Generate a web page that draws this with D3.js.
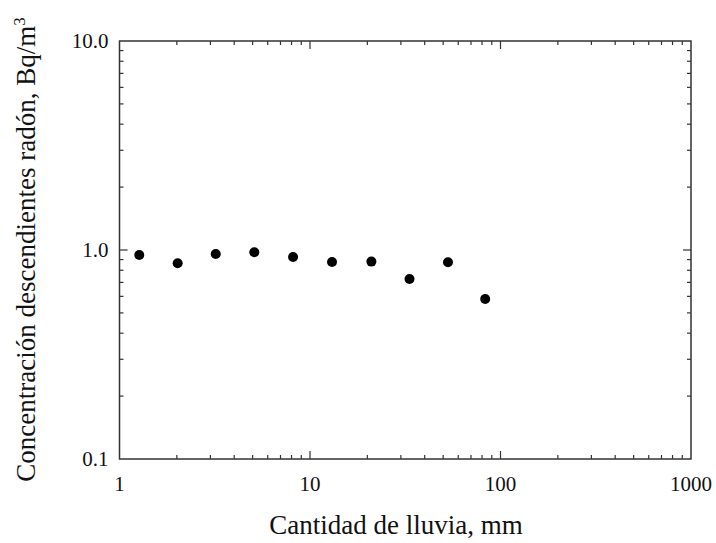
<!DOCTYPE html>
<html><head><meta charset="utf-8">
<script src="https://cdn.jsdelivr.net/npm/d3@7"></script>
<style>body{margin:0;background:#fff}svg{display:block}</style>
</head><body>
<svg id="c" width="716" height="543"></svg>
<script>
const rainfall = [1.27, 2.02, 3.2, 5.1, 8.15, 13.05, 21.0, 33.3, 53.0, 83.1];
const radonConc = [0.946, 0.864, 0.957, 0.975, 0.926, 0.876, 0.88, 0.726, 0.873, 0.583];
const xTickLabels = ["1", "10", "100", "1000"];
const yTickLabels = ["0.1", "1.0", "10.0"];
const xTickValues = [1, 10, 100, 1000];
const yTickValues = [0.1, 1, 10];

const svg = d3.select("#c");
const L = 119.5, R = 691, T = 41, B = 459;
const x = d3.scaleLog().domain([1, 1000]).range([L, R]);
const y = d3.scaleLog().domain([0.1, 10]).range([B, T]);
const font = "'Liberation Serif', 'Times New Roman', serif";
const axisColor = "#333";

const xMinor = [], yMinor = [];
[1, 10, 100].forEach(d => { for (let k = 2; k <= 9; k++) xMinor.push(d * k); });
[0.1, 1].forEach(d => { for (let k = 2; k <= 9; k++) yMinor.push(d * k); });

const g = svg.append("g");
function ticks(vals, len, isX) {
  vals.forEach(v => {
    if (isX) {
      const px = x(v);
      g.append("line").attr("x1", px).attr("x2", px).attr("y1", B).attr("y2", B - len).attr("stroke", axisColor).attr("stroke-width", 1.2);
      g.append("line").attr("x1", px).attr("x2", px).attr("y1", T).attr("y2", T + len).attr("stroke", axisColor).attr("stroke-width", 1.2);
    } else {
      const py = y(v);
      g.append("line").attr("y1", py).attr("y2", py).attr("x1", L).attr("x2", L + len).attr("stroke", axisColor).attr("stroke-width", 1.2);
      g.append("line").attr("y1", py).attr("y2", py).attr("x1", R).attr("x2", R - len).attr("stroke", axisColor).attr("stroke-width", 1.2);
    }
  });
}
ticks(xMinor, 4, true);
ticks(xTickValues.slice(1, -1), 8, true);
ticks(yMinor, 4, false);
ticks(yTickValues.slice(1, -1), 8, false);

g.append("rect").attr("x", L).attr("y", T).attr("width", R - L).attr("height", B - T)
  .attr("fill", "none").attr("stroke", axisColor).attr("stroke-width", 1.5);

xTickValues.forEach((v, i) => {
  g.append("text").attr("x", x(v)).attr("y", B + 32).attr("text-anchor", "middle")
    .attr("font-family", font).attr("font-size", 21).attr("fill", "#111").text(xTickLabels[i]);
});
yTickValues.forEach((v, i) => {
  g.append("text").attr("x", L - 11).attr("y", y(v) + 7).attr("text-anchor", "end")
    .attr("font-family", font).attr("font-size", 21).attr("fill", "#111").text(yTickLabels[i]);
});

g.selectAll("circle.pt").data(rainfall.map((r, i) => [r, radonConc[i]])).join("circle")
  .attr("class", "pt").attr("cx", d => x(d[0])).attr("cy", d => y(d[1])).attr("r", 5).attr("fill", "#000");

g.append("text").attr("x", 396).attr("y", 534).attr("text-anchor", "middle")
  .attr("font-family", font).attr("font-size", 27).attr("fill", "#111").text("Cantidad de lluvia, mm");
const yt = g.append("text").attr("transform", `translate(35,249.5) rotate(-90)`)
  .attr("text-anchor", "middle").attr("font-family", font).attr("font-size", 27).attr("fill", "#111");
yt.append("tspan").text("Concentración descendientes radón, Bq/m");
yt.append("tspan").attr("font-size", 17).attr("dy", -10).text("3");
</script>
</body></html>
